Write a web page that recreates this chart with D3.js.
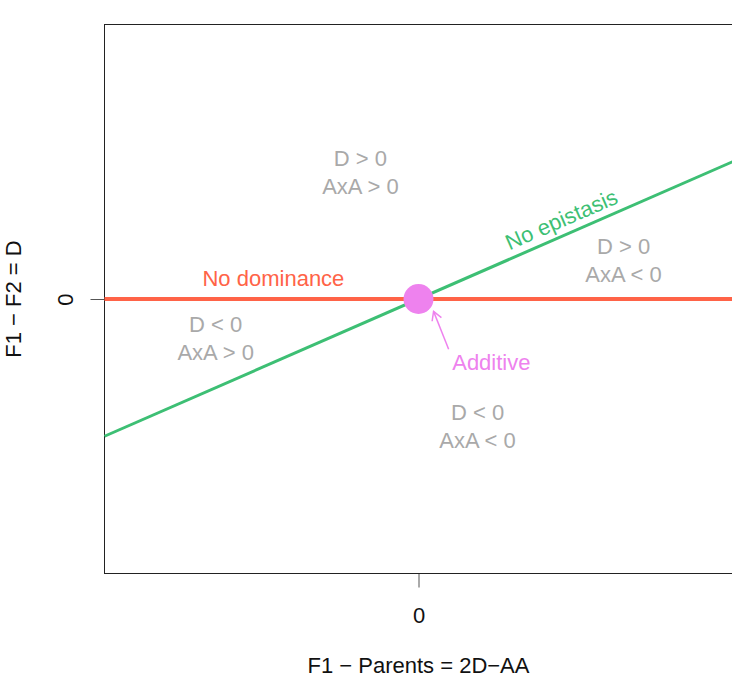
<!DOCTYPE html>
<html><head><meta charset="utf-8">
<script src="https://cdn.jsdelivr.net/npm/d3@7"></script>
<style>body{margin:0;background:#fff;}svg{display:block;font-family:"Liberation Sans",Arial,sans-serif;}</style>
</head><body>
<script>
const xDomain = [-1, 1];
const yDomain = [-1, 1];
const xTicks = [0];
const yTicks = [0];
const noDominance = [{x: -1, y: 0}, {x: 1, y: 0}];
const noEpistasis = [{x: -1, y: -0.5}, {x: 1, y: 0.5}];
const additivePoint = {x: 0, y: 0};
const regionLabels = [
  {x: -0.185, y: 0.463, lines: ["D > 0", "AxA > 0"]},
  {x: -0.646, y: -0.141, lines: ["D < 0", "AxA > 0"]},
  {x: 0.653, y: 0.143, lines: ["D > 0", "AxA < 0"]},
  {x: 0.188, y: -0.461, lines: ["D < 0", "AxA < 0"]}
];
const lineLabels = [
  {name: "No dominance", x: -0.462, y: 0.075},
  {name: "No epistasis", x: 0.475, y: 0.2375},
  {name: "Additive", x: 0.232, y: -0.23}
];
const arrowFrom = {x: 0.096, y: -0.183};
const arrowTo = {x: 0.048, y: -0.045};

const W = 732, H = 681;
const m = {left: 104.5, right: 0, top: 24.5, bottom: 107.5};
const svg = d3.select("body").append("svg").attr("width", W).attr("height", H);
const x = d3.scaleLinear().domain(xDomain).range([m.left, W + 0.5]);
const y = d3.scaleLinear().domain(yDomain).range([H - m.bottom, m.top]);
const fs = 22;
const grey = "#a9a9a9", red = "#ff6347", green = "#3dbf74", violet = "#ee82ee";

// axes
const xAxis = svg.append("g").attr("transform", `translate(0,${H - m.bottom})`)
  .call(d3.axisBottom(x).tickValues(xTicks).tickSize(14).tickPadding(20).tickFormat(d3.format("d")));
const yAxis = svg.append("g").attr("transform", `translate(${m.left},0)`)
  .call(d3.axisLeft(y).tickValues(yTicks).tickSize(14).tickPadding(0).tickFormat(d3.format("d")));
[xAxis, yAxis].forEach(g => {
  g.select(".domain").remove();
  g.selectAll(".tick line").attr("stroke", "#555");
  g.selectAll(".tick text").attr("font-size", fs).attr("fill", "#111").attr("font-family", "Liberation Sans, Arial, sans-serif");
});
yAxis.selectAll(".tick text").attr("transform", "translate(-39,0) rotate(-90)").attr("text-anchor", "middle").attr("dy", "0.35em").attr("x", 0);

// box
svg.append("rect").attr("x", x(xDomain[0])).attr("y", y(yDomain[1]))
  .attr("width", x(xDomain[1]) - x(xDomain[0])).attr("height", y(yDomain[0]) - y(yDomain[1]))
  .attr("fill", "none").attr("stroke", "#222").attr("stroke-width", 1);

// axis titles
svg.append("text").attr("x", x(0)).attr("y", 673).attr("text-anchor", "middle")
  .attr("font-size", fs).attr("fill", "#111").text("F1 \u2212 Parents = 2D\u2212AA");
svg.append("text").attr("transform", `translate(21,${y(0)}) rotate(-90)`).attr("text-anchor", "middle")
  .attr("font-size", fs).attr("fill", "#111").text("F1 \u2212 F2 = D");

const line = d3.line().x(d => x(d.x)).y(d => y(d.y));
svg.append("path").datum(noEpistasis).attr("d", line).attr("stroke", green).attr("stroke-width", 3).attr("fill", "none");
svg.append("path").datum(noDominance).attr("d", line).attr("stroke", red).attr("stroke-width", 4).attr("fill", "none");

svg.append("circle").attr("cx", x(additivePoint.x)).attr("cy", y(additivePoint.y)).attr("r", 15).attr("fill", violet);

// arrow
const ax1 = x(arrowFrom.x), ay1 = y(arrowFrom.y), ax2 = x(arrowTo.x), ay2 = y(arrowTo.y);
svg.append("line").attr("x1", ax1).attr("y1", ay1).attr("x2", ax2).attr("y2", ay2).attr("stroke", violet).attr("stroke-width", 1.5);
const ang = Math.atan2(ay2 - ay1, ax2 - ax1), hl = 10, ha = Math.PI / 6;
svg.append("path").attr("d",
  `M${ax2 - hl * Math.cos(ang - ha)},${ay2 - hl * Math.sin(ang - ha)}L${ax2},${ay2}L${ax2 - hl * Math.cos(ang + ha)},${ay2 - hl * Math.sin(ang + ha)}`)
  .attr("stroke", violet).attr("stroke-width", 1.5).attr("fill", "none");

// region labels
regionLabels.forEach(r => {
  const t = svg.append("text").attr("x", x(r.x)).attr("y", y(r.y)).attr("text-anchor", "middle")
    .attr("font-size", fs).attr("fill", grey);
  r.lines.forEach((l, i) => t.append("tspan").attr("x", x(r.x)).attr("dy", i === 0 ? "-0.25em" : "1.25em").text(l));
});

// line labels
const nd = lineLabels[0], ne = lineLabels[1], ad = lineLabels[2];
svg.append("text").attr("x", x(nd.x)).attr("y", y(nd.y)).attr("dy", "0.35em").attr("text-anchor", "middle")
  .attr("font-size", fs).attr("fill", red).text(nd.name);
const slopeAng = Math.atan2(y(noEpistasis[1].y) - y(noEpistasis[0].y), x(noEpistasis[1].x) - x(noEpistasis[0].x)) * 180 / Math.PI;
svg.append("text").attr("transform", `translate(${x(ne.x)},${y(ne.y)}) rotate(${slopeAng})`)
  .attr("y", -8).attr("text-anchor", "middle").attr("font-size", fs).attr("fill", green).text(ne.name);
svg.append("text").attr("x", x(ad.x)).attr("y", y(ad.y)).attr("dy", "0.35em").attr("text-anchor", "middle")
  .attr("font-size", fs).attr("fill", violet).text(ad.name);
</script>
</body></html>
